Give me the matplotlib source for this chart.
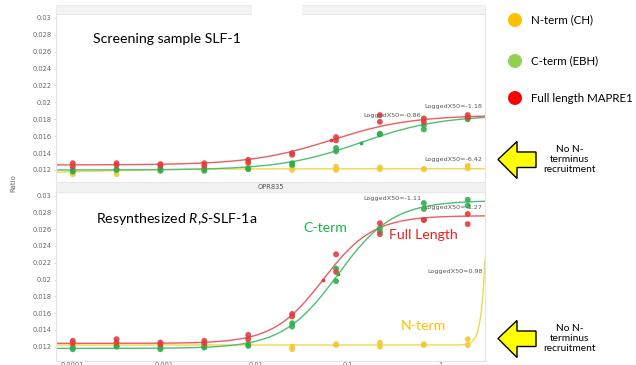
#!/usr/bin/env python3
"""Dose-response ratio curves, screening sample vs resynthesized compound."""

import numpy as np
import matplotlib.pyplot as plt
from matplotlib.patches import Polygon, Circle, Rectangle

# ---- Data ----
doses = [0.000102, 0.000305, 0.000914, 0.00274, 0.00823,
         0.0247, 0.0741, 0.222, 0.667, 2.0]

# top panel: screening sample SLF-1 (two replicates per series)
red_top_a = [0.0128, 0.0128, 0.0127, 0.0128, 0.0132, 0.0140, 0.0159, 0.0185, 0.0181, 0.0185]
red_top_b = [0.0124, 0.0126, 0.0125, 0.0125, 0.0129, 0.0138, 0.0155, 0.0177, 0.0177, 0.0182]
green_top_a = [0.0120, 0.0121, 0.0119, 0.0121, 0.0122, 0.0128, 0.0146, 0.0163, 0.0173, 0.0182]
green_top_b = [0.0118, 0.0120, 0.0121, 0.0119, 0.0121, 0.0126, 0.0142, 0.0162, 0.0168, 0.0180]
yellow_top_a = [0.0115, 0.0115, 0.0122, 0.0120, 0.0125, 0.0124, 0.0124, 0.0123, 0.0121, 0.0125]
yellow_top_b = [0.0119, 0.0120, 0.0121, 0.0122, 0.0121, 0.0120, 0.0120, 0.0121, 0.0121, 0.0122]

# bottom panel: resynthesized R,S-SLF-1a
red_bot_a = [0.0127, 0.0129, 0.0125, 0.0127, 0.0134, 0.0159, 0.0230, 0.0267, 0.0271, 0.0278]
red_bot_b = [0.0124, 0.0125, 0.0123, 0.0124, 0.0129, 0.0156, 0.0209, 0.0254, 0.0271, 0.0266]
green_bot_a = [0.0117, 0.0120, 0.0117, 0.0119, 0.0123, 0.0148, 0.0213, 0.0261, 0.0291, 0.0295]
green_bot_b = [0.0119, 0.0121, 0.0119, 0.0120, 0.0121, 0.0144, 0.0198, 0.0257, 0.0284, 0.0288]
yellow_bot_a = [0.0122, 0.0121, 0.0122, 0.0123, 0.0124, 0.0120, 0.0123, 0.0125, 0.0123, 0.0129]
yellow_bot_b = [0.0124, 0.0123, 0.0120, 0.0122, 0.0122, 0.0117, 0.0122, 0.0120, 0.0122, 0.0122]

# 4PL fit parameters: bottom, top, logEC50, hill
fit_top = {"yellow": (0.0115, 0.01215, -3.9, 0.8),
           "green": (0.0120, 0.0185, -0.86, 1.0),
           "red": (0.0126, 0.0185, -1.18, 1.0)}
fit_bot = {"yellow": (0.0122, 1.35, 0.70, 10.0),
           "green": (0.0118, 0.0294, -1.11, 1.45),
           "red": (0.0124, 0.0276, -1.27, 1.6)}

# LoggedX50 labels: text, dose, ratio
x50_top = [("LoggedX50=-0.86", 0.146, 0.0185), ("LoggedX50=-1.18", 0.67, 0.01946),
           ("LoggedX50=-6.42", 0.67, 0.0133)]
x50_bot = [("LoggedX50=-1.11", 0.146, 0.0297), ("LoggedX50=-1.27", 0.67, 0.02863),
           ("LoggedX50=0.98", 0.72, 0.0210)]

yticks = [0.012, 0.014, 0.016, 0.018, 0.02, 0.022, 0.024, 0.026, 0.028, 0.03]
ytick_labels = ["0.012", "0.014", "0.016", "0.018", "0.02", "0.022",
                "0.024", "0.026", "0.028", "0.03"]
xticks = [0.0001, 0.001, 0.01, 0.1, 1]
xtick_labels = ["0.0001", "0.001", "0.01", "0.1", "1"]

# ---- Styles ----
pt_col = {"red": "#e23c40", "green": "#2fae50", "yellow": "#f2c935"}
ln_col = {"red": "#ea5d60", "green": "#4fbf70", "yellow": "#f2d84a"}
FONT = "Lato"
BIG = 10.2
plt.rcParams["mathtext.fontset"] = "custom"
plt.rcParams["mathtext.rm"] = "Lato"
plt.rcParams["mathtext.it"] = "Lato:italic"


def logistic(x, b, t, c, h):
    return b + (t - b) / (1 + 10 ** ((c - np.log10(x)) * h))


W, H = 636, 365
fig = plt.figure(figsize=(W / 100, H / 100), dpi=100, facecolor="white")
L, R = 56, 485


def fax(x0, y0, x1, y1):
    return [x0 / W, 1 - y1 / H, (x1 - x0) / W, (y1 - y0) / H]


ax_top = fig.add_axes(fax(L, 14, R, 182))
ax_bot = fig.add_axes(fax(L, 192, R, 361))
xlim = (6.7e-5, 3.08)
xs = np.logspace(np.log10(xlim[0]), np.log10(xlim[1]), 400)

panels = [
    (ax_top, (0.01058, 0.03046), fit_top, x50_top,
     {"red": (red_top_a, red_top_b), "green": (green_top_a, green_top_b),
      "yellow": (yellow_top_a, yellow_top_b)}),
    (ax_bot, (0.0103, 0.03042), fit_bot, x50_bot,
     {"red": (red_bot_a, red_bot_b), "green": (green_bot_a, green_bot_b),
      "yellow": (yellow_bot_a, yellow_bot_b)}),
]

for ax, ylim, fits, x50s, series in panels:
    ax.set_xscale("log")
    ax.set_xlim(*xlim)
    ax.set_ylim(*ylim)
    for key in ["yellow", "green", "red"]:
        b, t, c, h = fits[key]
        ax.plot(xs, logistic(xs, b, t, c, h), color=ln_col[key], lw=1.0, zorder=2)
        for reps in series[key]:
            ax.scatter(doses, reps, s=18, color=pt_col[key], alpha=0.9,
                       edgecolors="none", zorder=3)
        if key != "yellow":
            ax.scatter([10 ** c], [(b + t) / 2], s=3, color=pt_col[key], zorder=4)
    for txt, xd, yv in x50s:
        ax.text(xd, yv, txt, fontsize=4.6, color="#555555", va="center", ha="left",
                zorder=5)
    ax.set_yticks(yticks)
    ax.set_yticklabels(ytick_labels)
    ax.set_xticks(xticks)
    ax.minorticks_off()
    ax.tick_params(axis="y", labelsize=4.8, colors="#666666", length=1.5, width=0.5,
                   pad=1.5, color="#cccccc")
    for sp in ax.spines.values():
        sp.set_color("#e3e3e3")
        sp.set_linewidth(0.8)

ax_top.tick_params(axis="x", length=0, labelbottom=False)
ax_bot.set_xticklabels(xtick_labels)
ax_bot.tick_params(axis="x", labelsize=4.8, colors="#666666", length=0, pad=1.0)

# panel titles and annotations
ax_top.text(0.087, 0.85, "Screening sample SLF-1", transform=ax_top.transAxes,
            fontsize=BIG, family=FONT, color="black", va="center")
ax_bot.text(0.093, 0.84, r"Resynthesized $\mathit{R{,}S}$-SLF-1a", transform=ax_bot.transAxes,
            fontsize=BIG, family=FONT, color="black", va="center")
ax_bot.text(0.0324, 0.0261, "C-term", fontsize=BIG, family=FONT, color="#21b24b",
            va="center")
ax_bot.text(0.279, 0.0253, "Full Length", fontsize=BIG, family=FONT, color="#f01e1e",
            va="center")
ax_bot.text(0.377, 0.01446, "N-term", fontsize=BIG, family=FONT, color="#ffc000",
            va="center")

# ---- Overlay in pixel coordinates: strips, legend, arrows ----
ov = fig.add_axes([0, 0, 1, 1], zorder=10)
ov.set_xlim(0, W)
ov.set_ylim(H, 0)
ov.axis("off")
ov.patch.set_alpha(0)

ov.add_patch(Rectangle((L, 5), R - L, 9, facecolor="#f3f3f3", edgecolor="#e6e6e6", lw=0.5))
ov.add_patch(Rectangle((252, 3), 50, 12, facecolor="white", edgecolor="none"))
ov.add_patch(Rectangle((L, 182), R - L, 10, facecolor="#f2f2f2", edgecolor="#e6e6e6", lw=0.5))
ov.text((L + R) / 2, 187, "OPR835", fontsize=4.8, color="#555555", ha="center", va="center")

ov.text(13, 183, "Ratio", fontsize=5, color="#666666", rotation=90, ha="center", va="center")

legend_items = [("N-term (CH)", "#ffc000", 20), ("C-term (EBH)", "#92d050", 61),
                ("Full length MAPRE1", "#ff0000", 98)]
for label, col, yc in legend_items:
    ov.add_patch(Circle((515, yc), 7, facecolor=col, edgecolor="none"))
    ov.text(531, yc, label, fontsize=8.3, family=FONT, color="black", va="center")

for yc in [159.5, 338.5]:
    arrow = [(498, yc), (517, yc - 18), (517, yc - 7.5), (536, yc - 7.5),
             (536, yc + 8), (517, yc + 8), (517, yc + 19)]
    ov.add_patch(Polygon(arrow, closed=True, facecolor="#ffff00", edgecolor="black", lw=1))
    ov.text(570, yc, "No N-\nterminus\nrecruitment", fontsize=7.3, family=FONT,
            ha="center", va="center", linespacing=1.2)

fig.savefig("out.png", dpi=100, facecolor="white")
plt.close()
